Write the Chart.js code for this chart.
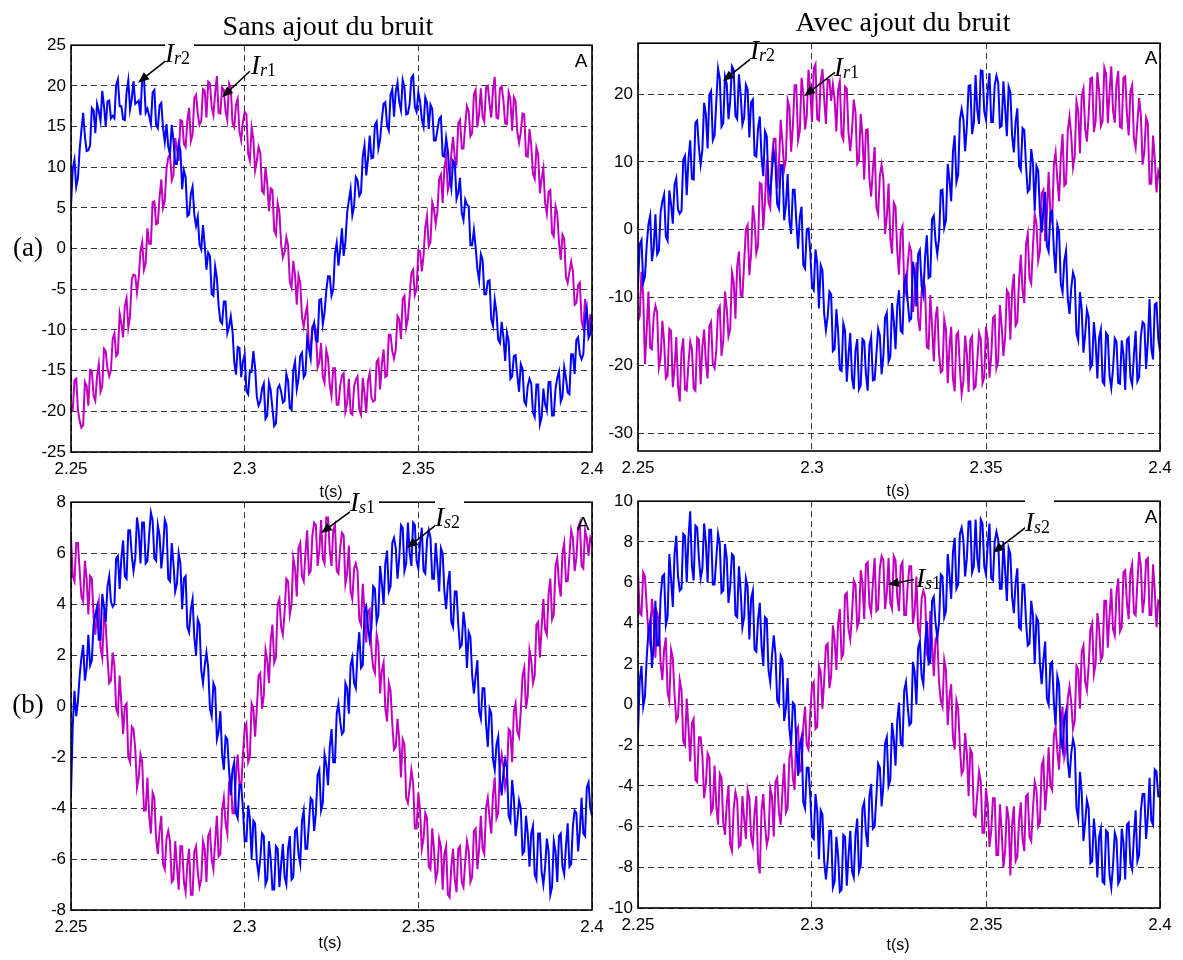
<!DOCTYPE html>
<html>
<head>
<meta charset="utf-8">
<script src="https://cdn.jsdelivr.net/npm/chart.js@4.4.0/dist/chart.umd.min.js"></script>
<style>
  html, body { margin: 0; padding: 0; background: #fff; }
  body { width: 1183px; height: 960px; position: relative; overflow: hidden; }
  canvas { position: absolute; }
  .txt { position: absolute; white-space: nowrap; color: #000; z-index: 2; }
  .title { font-family: 'Liberation Serif', 'Times New Roman', serif; font-size: 28px; line-height: 28px; transform: translateX(-50%); }
  .panel { font-family: 'Liberation Serif', 'Times New Roman', serif; font-size: 27px; line-height: 27px; transform: translate(-50%, -50%); }
  .sans { font-family: 'Liberation Sans', Arial, sans-serif; line-height: 1; transform: translate(-50%, -50%); }
  .lbl { position: absolute; font-family: 'Liberation Serif', 'Times New Roman', serif; line-height: 27px; white-space: nowrap; color: #000; z-index: 2; }
  .lbl .I { font-size: 27px; font-style: italic; }
  .lbl .s { font-size: 18px; position: relative; top: 2px; }
  .bg { background: #fff; }
</style>
</head>
<body>
<canvas id="ra" width="615" height="450" style="left:0px;top:30px"></canvas>
<canvas id="rb" width="608" height="451" style="left:575px;top:28px"></canvas>
<canvas id="sa" width="615" height="451" style="left:0px;top:487px"></canvas>
<canvas id="sb" width="608" height="450" style="left:575px;top:486px"></canvas>

<div class="txt title" style="left:328px;top:12px">Sans ajout du bruit</div>
<div class="txt title bg" style="left:903px;top:8px;padding:0 4px 6px 4px">Avec ajout du bruit</div>

<div class="txt panel" style="left:28px;top:247px">(a)</div>
<div class="txt panel" style="left:28px;top:704px">(b)</div>

<div class="txt sans" style="left:331px;top:492px;font-size:16px">t(s)</div>
<div class="txt sans" style="left:898px;top:491px;font-size:16px">t(s)</div>
<div class="txt sans" style="left:330px;top:943px;font-size:16px">t(s)</div>
<div class="txt sans" style="left:898px;top:945px;font-size:16px">t(s)</div>

<div class="txt sans" style="left:581px;top:60px;font-size:19px">A</div>
<div class="txt sans" style="left:1151px;top:57px;font-size:19px">A</div>
<div class="txt sans" style="left:583px;top:523px;font-size:19px">A</div>
<div class="txt sans" style="left:1151px;top:516px;font-size:19px">A</div>

<div class="lbl bg" style="left:165px;top:40px;padding-right:4px"><span class="I">I</span><span class="s"><i>r</i>2</span></div>
<div class="lbl" style="left:251px;top:52px"><span class="I">I</span><span class="s"><i>r</i>1</span></div>
<div class="lbl" style="left:750px;top:37px"><span class="I">I</span><span class="s"><i>r</i>2</span></div>
<div class="lbl" style="left:834px;top:54px"><span class="I">I</span><span class="s"><i>r</i>1</span></div>
<div class="lbl bg" style="left:350px;top:489px;padding-right:4px"><span class="I">I</span><span class="s"><i>s</i>1</span></div>
<div class="lbl bg" style="left:435px;top:497px;padding-top:7px;padding-right:4px"><span class="I">I</span><span class="s"><i>s</i>2</span></div>
<div class="lbl" style="left:916px;top:565px"><span class="I">I</span><span class="s"><i>s</i>1</span></div>
<div class="lbl bg" style="left:1025px;top:497px;padding-top:12px;padding-right:4px"><span class="I">I</span><span class="s"><i>s</i>2</span></div>

<script>
// time axis: one sample every 0.5 ms from 2.25 s to 2.40 s
const T_START = 2.25;
const T_STEP = 0.0005;
const X_TICKS = [2.25, 2.3, 2.35, 2.4];
const X_TICK_LABELS = ['2.25', '2.3', '2.35', '2.4'];

const Y_TICKS_RA = [-25, -20, -15, -10, -5, 0, 5, 10, 15, 20, 25];
const Y_TICKS_RB = [-30, -20, -10, 0, 10, 20];
const Y_TICKS_SA = [-8, -6, -4, -2, 0, 2, 4, 6, 8];
const Y_TICKS_SB = [-10, -8, -6, -4, -2, 0, 2, 4, 6, 8, 10];

// (a) rotor currents, sans ajout du bruit
const irSansIr2 = [
  5.2, 9.8, 10.9, 7.6, 8.7, 12.2, 14.6, 16.7, 13.8, 12.0,
  12.1, 12.7, 17.3, 17.0, 14.2, 17.8, 16.9, 15.7, 19.4, 17.5,
  15.0, 18.1, 18.2, 16.0, 16.3, 16.0, 20.1, 20.8, 17.5, 17.5,
  15.9, 15.8, 19.2, 20.7, 17.1, 18.4, 20.6, 17.8, 18.0, 18.2,
  16.4, 21.0, 21.1, 16.7, 17.2, 16.3, 15.3, 19.2, 19.5, 15.2,
  14.8, 17.6, 17.9, 14.8, 13.1, 15.3, 12.5, 11.6, 15.2, 13.3,
  10.4, 10.4, 12.9, 12.1, 7.3, 9.6, 8.8, 4.0, 4.2, 6.7,
  7.6, 4.2, 2.8, 3.9, 0.5, -0.1, 2.9, 0.4, -2.6, -0.5,
  -0.9, -5.6, -5.8, -2.2, -3.6, -7.0, -8.9, -9.2, -6.5, -6.5,
  -10.4, -9.6, -8.3, -10.1, -13.9, -15.5, -12.1, -12.2, -15.8, -13.9,
  -13.0, -17.5, -17.9, -15.0, -15.1, -12.6, -14.6, -18.2, -19.3, -18.8,
  -17.2, -16.6, -20.9, -20.5, -16.5, -17.4, -19.7, -21.8, -21.5, -17.2,
  -16.8, -17.6, -18.9, -18.7, -15.4, -16.3, -19.6, -19.8, -14.9, -13.9,
  -17.3, -16.0, -13.2, -12.8, -15.8, -15.4, -11.0, -12.3, -13.5, -9.8,
  -9.1, -11.3, -11.4, -6.3, -6.2, -9.3, -7.9, -5.2, -3.4, -3.4,
  -5.8, -5.0, -0.6, 0.7, -2.1, -0.1, 2.5, -0.9, 0.8, 4.4,
  5.9, 7.3, 4.1, 5.2, 8.8, 8.4, 6.5, 6.9, 11.3, 12.7,
  9.0, 11.0, 13.9, 11.1, 11.2, 15.2, 15.6, 12.3, 13.4, 15.9,
  17.8, 18.0, 15.1, 14.5, 18.9, 19.6, 16.2, 19.3, 20.4, 18.0,
  17.0, 20.7, 19.8, 16.5, 16.6, 17.8, 21.0, 21.3, 17.4, 16.8,
  19.2, 18.1, 15.9, 15.0, 18.6, 17.9, 14.7, 17.7, 17.2, 13.3,
  13.3, 14.6, 15.9, 16.2, 11.4, 11.3, 13.6, 12.0, 8.9, 7.4,
  10.8, 10.5, 6.1, 6.9, 8.7, 4.4, 3.5, 6.0, 5.4, 5.2,
  0.4, 0.4, 2.3, 0.2, -2.5, -3.9, -0.7, -1.4, -5.6, -5.6,
  -4.0, -3.9, -8.7, -9.5, -6.3, -7.8, -11.2, -11.6, -9.0, -10.9,
  -13.8, -10.3, -11.3, -16.0, -15.7, -13.2, -13.1, -15.6, -17.6, -14.2,
  -14.8, -18.8, -19.2, -16.9, -16.0, -16.6, -20.1, -20.7, -16.7, -16.7,
  -21.6, -20.7, -17.2, -19.1, -19.9, -16.4, -16.4, -20.5, -20.5, -17.2,
  -15.9, -15.1, -18.8, -18.2, -14.6, -15.9, -17.7, -17.9, -13.0, -13.0,
  -15.4, -11.2, -10.9, -13.0, -13.6, -13.0, -8.8, -7.4, -11.0, -10.5,
  -8.0
];
const irSansIr1 = [
  -20.1, -19.9, -16.2, -16.0, -19.8, -21.2, -22.0, -21.7, -16.4, -16.9,
  -19.3, -14.9, -15.0, -18.1, -18.7, -15.7, -14.2, -17.6, -16.9, -12.3,
  -12.6, -14.7, -15.7, -14.9, -11.1, -10.4, -13.2, -12.9, -8.0, -9.2,
  -10.9, -7.0, -6.1, -9.7, -8.3, -3.8, -3.2, -3.3, -5.4, -3.6,
  -0.3, 0.8, -2.6, -1.8, 2.5, 0.6, 0.6, 5.7, 5.8, 3.0,
  3.1, 6.3, 8.5, 5.0, 5.9, 9.8, 11.2, 11.6, 8.4, 9.0,
  13.6, 12.2, 10.8, 15.8, 15.7, 12.9, 12.5, 15.7, 17.3, 13.2,
  14.0, 18.5, 18.9, 16.6, 15.2, 15.7, 19.6, 19.4, 16.1, 20.5,
  20.3, 17.4, 16.4, 19.1, 21.2, 16.7, 16.6, 19.8, 19.5, 16.9,
  15.8, 20.3, 19.8, 15.4, 14.9, 17.7, 18.4, 14.4, 13.3, 15.6,
  16.8, 16.5, 11.7, 10.8, 14.9, 13.5, 9.6, 10.8, 12.5, 11.8,
  7.1, 6.8, 9.9, 8.0, 4.6, 7.4, 7.2, 2.2, 1.7, 5.6,
  4.5, 0.5, -1.1, -0.4, 1.4, 0.4, -4.1, -4.8, -1.5, -3.2,
  -6.9, -3.3, -4.2, -8.4, -9.6, -8.1, -7.0, -12.2, -12.3, -9.6,
  -9.3, -10.0, -14.6, -13.9, -11.6, -15.8, -16.5, -12.5, -13.4, -16.8,
  -18.1, -14.7, -14.7, -19.2, -19.2, -16.9, -15.6, -15.3, -20.0, -19.0,
  -16.0, -20.2, -20.4, -17.0, -16.1, -15.7, -19.8, -20.4, -15.9, -17.8,
  -20.2, -16.3, -15.3, -18.3, -18.8, -18.6, -13.9, -13.6, -17.3, -14.1,
  -12.4, -15.8, -15.6, -10.6, -10.6, -12.6, -13.5, -12.4, -8.3, -8.7,
  -11.1, -6.2, -5.8, -9.7, -8.6, -5.8, -3.0, -2.6, -5.7, -5.0,
  -0.2, -0.3, -2.8, -0.9, 2.6, 4.0, 0.3, 0.8, 5.7, 4.9,
  3.0, 4.6, 8.6, 9.1, 5.6, 10.0, 11.3, 7.2, 8.1, 11.7,
  13.7, 11.1, 10.5, 15.4, 15.8, 12.3, 12.3, 15.2, 17.5, 16.9,
  13.8, 14.2, 19.0, 19.5, 14.9, 16.6, 19.7, 16.2, 15.6, 19.8,
  20.0, 17.8, 16.1, 19.6, 21.1, 16.1, 16.0, 19.7, 19.9, 18.2,
  15.4, 15.3, 19.2, 18.4, 14.5, 18.6, 18.1, 14.3, 13.0, 14.3,
  16.6, 16.5, 11.4, 11.3, 14.7, 12.7, 9.2, 8.6, 12.4, 11.6,
  6.8, 8.6, 9.9, 5.6, 4.3, 7.0, 7.2, 1.9, 1.5, 5.2,
  4.3, 0.7, -1.4, 1.7, 1.2, -3.5, -4.2, -2.9, -1.6, -2.8,
  -6.9, -6.7, -4.5, -4.2, -8.9, -9.8, -6.2, -7.9, -10.6, -8.2,
  -8.3
];

// (a) rotor currents, avec ajout du bruit
const irAvecIr2 = [
  -8.2, -2.1, -1.5, -7.8, -6.9, -2.3, 0.8, 2.1, -4.6, -2.8,
  2.3, -3.6, -3.1, 2.6, 4.2, 5.2, -1.0, -1.6, 5.8, 3.8,
  0.9, 6.7, 7.6, 3.0, 2.4, 2.8, 10.3, 10.9, 5.1, 10.4,
  13.2, 7.5, 7.4, 15.8, 16.1, 12.1, 9.6, 11.8, 18.7, 17.0,
  12.0, 19.8, 20.4, 13.2, 13.9, 18.9, 23.8, 22.3, 15.2, 15.7,
  22.6, 21.5, 16.3, 19.0, 24.1, 23.6, 16.8, 16.3, 22.9, 20.0,
  15.5, 16.5, 21.4, 20.7, 13.6, 18.8, 19.2, 11.0, 10.8, 15.0,
  16.7, 10.7, 7.9, 14.5, 13.8, 6.7, 5.2, 8.8, 11.6, 9.7,
  3.8, 3.1, 9.5, 9.5, 1.4, 3.6, 8.2, 1.4, -0.6, 5.9,
  5.9, 1.2, -2.8, 1.9, 3.4, -5.2, -5.7, 0.1, 0.2, -3.3,
  -8.4, -8.9, -2.9, -4.9, -11.6, -5.2, -6.0, -12.4, -14.8, -12.8,
  -9.1, -9.5, -17.9, -17.6, -11.7, -15.0, -20.6, -20.8, -13.8, -14.9,
  -22.4, -18.4, -15.2, -21.8, -23.5, -17.8, -16.1, -23.5, -22.9, -16.1,
  -16.4, -21.3, -23.7, -17.0, -15.8, -22.2, -22.1, -18.4, -14.6, -15.6,
  -21.3, -18.7, -12.9, -12.2, -19.4, -18.7, -10.8, -13.4, -17.6, -11.3,
  -8.9, -14.9, -15.2, -7.8, -6.8, -10.5, -13.4, -13.1, -4.7, -6.4,
  -11.3, -3.6, -3.0, -8.3, -9.6, -4.0, -0.8, -7.1, -6.9, 1.6,
  2.1, -1.6, -3.6, -1.3, 5.8, 5.9, 0.3, 1.4, 9.7, 7.4,
  4.2, 11.5, 13.9, 7.0, 8.1, 16.2, 17.8, 16.3, 11.6, 15.2,
  21.2, 21.3, 14.1, 15.7, 22.8, 17.6, 15.6, 23.5, 23.4, 17.4,
  16.2, 20.5, 23.1, 15.9, 15.9, 21.3, 22.7, 21.7, 15.1, 15.3,
  21.9, 17.9, 13.8, 21.1, 20.3, 13.9, 11.4, 15.9, 17.9, 9.4,
  8.8, 15.0, 14.7, 9.4, 5.6, 6.0, 11.9, 9.8, 2.8, 9.4,
  8.7, 2.6, -0.4, 3.0, 5.6, -2.4, -3.2, 2.6, 2.8, -3.0,
  -6.4, 0.7, -0.3, -8.0, -9.2, -4.6, -3.1, -10.2, -12.4, -8.6,
  -6.3, -7.2, -15.3, -16.3, -9.2, -11.7, -18.1, -15.4, -11.8, -12.9,
  -20.4, -19.8, -13.6, -16.6, -21.9, -15.9, -14.7, -22.4, -22.8, -15.2,
  -15.6, -21.5, -23.3, -20.5, -16.0, -16.5, -22.6, -22.7, -16.3, -18.4,
  -23.6, -16.2, -15.9, -21.8, -22.8, -18.5, -14.9, -22.3, -21.7, -15.7,
  -13.6, -13.9, -20.5, -16.6, -10.2, -17.5, -19.1, -11.0, -10.8, -16.0,
  -18.0
];
const irAvecIr1 = [
  -13.5, -12.7, -6.2, -9.8, -19.8, -14.9, -9.1, -17.4, -17.6, -12.8,
  -11.2, -12.2, -20.3, -18.9, -13.4, -16.5, -21.9, -21.5, -14.6, -14.9,
  -23.2, -20.3, -15.8, -23.0, -25.3, -17.9, -16.0, -23.5, -23.7, -19.7,
  -16.5, -17.6, -23.4, -23.7, -15.9, -16.2, -22.8, -17.2, -14.7, -19.5,
  -21.9, -14.2, -13.6, -19.8, -20.4, -17.8, -11.9, -11.3, -18.6, -16.3,
  -9.1, -11.6, -15.7, -14.6, -6.3, -7.7, -13.1, -5.4, -3.2, -9.7,
  -9.8, -4.9, 0.1, 0.7, -6.7, -3.6, 3.6, 1.3, -3.4, -2.3,
  6.9, 6.7, 0.1, 4.4, 10.3, 4.0, 3.2, 10.7, 13.4, 13.4,
  6.1, 9.6, 16.2, 13.0, 8.9, 10.4, 19.1, 18.1, 11.5, 15.2,
  21.3, 21.3, 13.2, 14.6, 22.4, 20.2, 14.8, 16.8, 23.6, 20.6,
  15.9, 23.8, 24.4, 16.3, 16.1, 21.9, 23.7, 19.3, 15.6, 22.1,
  22.1, 19.0, 21.4, 19.2, 14.5, 20.6, 21.9, 14.0, 13.3, 21.1,
  20.8, 14.2, 11.6, 14.6, 19.2, 17.3, 9.7, 10.2, 17.1, 13.9,
  7.4, 14.7, 14.8, 7.5, 4.9, 9.0, 12.2, 3.3, 2.3, 8.0,
  9.6, 7.7, -0.6, 1.9, 6.8, -1.2, -3.5, 4.0, 3.4, -3.2,
  -6.6, -0.3, 0.5, -8.1, -9.4, -5.1, -2.3, -3.2, -12.1, -10.1,
  -4.8, -13.1, -14.9, -9.1, -7.2, -8.7, -17.3, -17.5, -9.6, -14.1,
  -19.4, -13.0, -11.3, -18.2, -21.0, -20.7, -13.2, -14.7, -22.6, -17.3,
  -14.3, -21.9, -23.8, -15.5, -15.1, -20.5, -24.2, -22.3, -15.6, -18.2,
  -23.9, -16.2, -15.7, -23.4, -23.1, -19.2, -15.2, -16.1, -22.6, -21.7,
  -14.3, -16.1, -21.8, -18.6, -13.0, -12.7, -20.4, -19.4, -11.1, -14.1,
  -18.6, -15.8, -8.9, -9.4, -16.2, -9.0, -6.5, -14.1, -13.6, -7.5,
  -3.7, -8.9, -10.8, -2.1, -0.6, -7.1, -7.9, -2.4, 2.3, 0.9,
  -4.6, -3.2, 5.4, 5.9, -1.7, 2.2, 8.5, 2.5, 1.3, 9.6,
  11.4, 7.4, 4.2, 10.8, 14.1, 6.5, 6.8, 14.6, 16.7, 13.8,
  9.2, 10.9, 18.9, 17.5, 11.3, 19.7, 20.8, 14.9, 13.0, 16.9,
  22.3, 22.4, 14.4, 16.0, 23.2, 20.5, 15.3, 16.0, 23.9, 23.0,
  15.7, 20.3, 24.1, 17.6, 15.8, 21.6, 23.4, 15.2, 15.0, 22.4,
  22.6, 17.1, 13.9, 20.4, 21.3, 13.5, 12.1, 15.8, 19.4, 16.9,
  9.6, 11.5, 16.5, 15.7, 6.8, 6.8, 13.9, 10.5, 5.5, 8.6,
  7.6
];

// (b) stator currents, sans ajout du bruit
const isSansIs2 = [
  -3.5, -0.8, 0.6, -0.4, 0.2, 1.2, 1.9, 2.4, 1.0, 1.5,
  2.8, 1.6, 1.8, 3.2, 3.6, 3.9, 2.6, 2.6, 4.4, 3.9,
  3.3, 4.7, 5.1, 4.1, 3.9, 4.0, 5.8, 5.9, 4.6, 5.8,
  6.5, 5.1, 5.0, 6.9, 6.9, 5.9, 5.3, 5.8, 7.4, 6.9,
  5.6, 7.2, 7.2, 5.6, 5.7, 6.7, 7.6, 7.3, 5.8, 5.7,
  7.1, 6.7, 5.4, 6.1, 7.3, 7.1, 5.0, 4.9, 6.4, 5.6,
  4.5, 4.8, 6.0, 5.6, 3.8, 5.0, 5.1, 3.1, 2.9, 3.8,
  4.2, 2.7, 2.0, 3.4, 3.2, 1.4, 0.9, 1.6, 2.1, 1.5,
  -0.1, -0.4, 0.9, 0.7, -1.3, -1.0, -0.2, -1.9, -2.5, -1.2,
  -1.3, -2.5, -3.5, -2.5, -2.2, -4.2, -4.4, -3.1, -3.1, -4.0,
  -5.3, -5.3, -3.9, -4.4, -6.0, -4.5, -4.6, -6.1, -6.6, -6.0,
  -5.0, -5.1, -7.0, -6.8, -5.3, -6.0, -7.2, -7.2, -5.5, -5.6,
  -7.1, -6.2, -5.4, -6.7, -7.0, -5.6, -5.1, -6.8, -6.7, -4.9,
  -4.8, -5.8, -6.2, -4.5, -4.1, -5.6, -5.6, -4.6, -3.6, -3.7,
  -4.9, -4.2, -2.7, -2.5, -4.1, -3.8, -1.9, -2.3, -3.1, -1.6,
  -0.9, -2.2, -2.2, -0.3, 0.1, -0.6, -1.1, -1.0, 0.9, 0.7,
  -0.3, 1.6, 1.9, 0.9, 0.7, 2.1, 2.9, 1.5, 1.6, 3.7,
  3.9, 3.1, 2.6, 3.1, 4.7, 4.6, 3.3, 3.6, 5.5, 4.8,
  4.0, 5.6, 6.1, 4.5, 4.7, 6.4, 6.6, 6.2, 5.0, 5.8,
  7.1, 7.0, 5.3, 5.6, 7.2, 6.0, 5.5, 7.2, 7.1, 5.7,
  5.4, 6.4, 7.0, 5.3, 5.2, 6.5, 6.9, 6.6, 5.0, 5.0,
  6.4, 5.5, 4.5, 6.2, 6.0, 4.5, 3.8, 4.8, 5.3, 3.3,
  3.1, 4.5, 4.5, 3.2, 2.3, 2.4, 3.7, 3.1, 1.5, 2.9,
  2.7, 1.2, 0.5, 1.2, 1.8, -0.2, -0.5, 0.7, 0.7, -0.7,
  -1.6, -0.1, -0.3, -2.1, -2.5, -1.5, -1.2, -2.9, -3.5, -2.6,
  -2.1, -2.4, -4.3, -4.5, -2.9, -3.6, -5.1, -4.5, -3.7, -4.0,
  -5.8, -5.7, -4.3, -5.0, -6.3, -5.0, -4.7, -6.6, -6.8, -5.0,
  -5.0, -6.5, -7.0, -6.3, -5.2, -5.7, -7.4, -7.1, -5.3, -5.7,
  -6.9, -5.1, -5.0, -6.3, -6.6, -5.5, -4.6, -6.3, -6.2, -4.7,
  -4.1, -4.2, -5.7, -4.9, -3.6, -5.0, -5.1, -3.2, -3.0, -4.0,
  -4.3
];
const isSansIs1 = [
  6.6, 5.1, 4.9, 6.4, 6.4, 5.3, 4.3, 4.1, 5.7, 5.0,
  3.6, 5.1, 5.0, 3.5, 2.8, 3.7, 4.1, 2.3, 1.9, 3.5,
  3.2, 1.9, 0.9, 1.0, 2.1, 1.6, -0.1, -0.3, 1.2, 0.1,
  -1.1, 0.0, 0.1, -2.0, -2.2, -0.8, -0.9, -1.7, -3.2, -2.8,
  -1.9, -2.2, -4.1, -4.1, -2.8, -4.3, -5.0, -3.4, -3.6, -5.2,
  -5.8, -4.9, -4.3, -6.2, -6.4, -5.2, -4.9, -5.3, -6.9, -6.8,
  -5.3, -6.3, -7.2, -5.5, -5.5, -6.9, -7.3, -6.2, -5.6, -7.4,
  -7.4, -5.7, -5.5, -6.5, -7.1, -6.8, -5.3, -5.6, -6.9, -5.1,
  -4.9, -6.0, -6.4, -5.3, -4.3, -5.9, -5.8, -4.1, -3.6, -4.6,
  -5.0, -3.0, -2.8, -4.2, -4.2, -2.7, -1.9, -3.1, -3.2, -1.9,
  -0.9, -0.7, -2.2, -2.0, 0.1, -0.1, -1.2, -0.1, 1.2, 1.3,
  -0.1, 0.4, 2.2, 1.8, 0.9, 2.6, 3.2, 1.7, 1.9, 4.0,
  4.2, 3.1, 2.8, 3.7, 5.0, 4.9, 3.6, 4.0, 5.8, 5.4,
  4.3, 6.2, 6.4, 5.1, 4.9, 6.0, 6.9, 5.2, 5.3, 6.7,
  7.2, 7.1, 5.5, 6.1, 7.3, 5.8, 5.6, 7.4, 7.4, 6.1,
  5.5, 6.9, 7.1, 5.3, 5.2, 6.2, 6.8, 6.7, 4.8, 5.2,
  6.3, 4.5, 4.2, 5.4, 5.6, 5.3, 3.4, 3.2, 4.8, 3.7,
  2.5, 3.7, 3.8, 2.2, 1.5, 1.3, 2.8, 2.4, 0.5, 1.4,
  1.7, -0.1, -0.6, 0.9, 0.6, -0.7, -1.7, -1.6, -0.5, -1.3,
  -2.8, -1.3, -1.5, -3.6, -3.8, -3.2, -2.5, -3.0, -4.8, -4.8,
  -3.4, -4.1, -5.6, -5.2, -4.2, -4.4, -6.3, -6.4, -4.8, -5.6,
  -6.8, -6.5, -5.2, -5.5, -7.2, -5.8, -5.5, -7.4, -7.5, -6.3,
  -5.6, -6.8, -7.3, -5.6, -5.5, -6.9, -7.1, -6.1, -5.3, -5.7,
  -6.9, -6.7, -4.9, -4.8, -6.4, -5.6, -4.3, -5.6, -5.8, -4.0,
  -3.6, -4.4, -5.0, -3.5, -2.8, -4.4, -4.2, -2.4, -1.9, -2.4,
  -3.2, -2.8, -0.9, -1.0, -2.2, -0.2, 0.1, -1.0, -1.2, -0.2,
  1.2, 1.5, -0.1, 0.4, 2.2, 1.8, 0.9, 1.2, 3.2, 3.3,
  1.9, 3.1, 4.2, 3.0, 2.8, 4.4, 5.0, 3.4, 3.6, 5.5,
  5.8, 4.8, 4.3, 6.0, 6.4, 4.9, 4.9, 5.9, 6.9, 6.6,
  5.3, 5.8, 7.0, 7.2, 5.5, 5.4, 6.9, 6.6, 5.9, 6.6,
  6.4
];

// (b) stator currents, avec ajout du bruit
const isAvecIs2 = [
  -1.4, 1.2, 1.9, -0.1, 0.4, 2.3, 3.6, 4.1, 1.8, 2.9,
  5.1, 2.9, 2.9, 5.3, 6.3, 6.4, 3.9, 4.3, 7.4, 6.2,
  4.8, 7.4, 8.3, 6.3, 5.6, 5.7, 8.4, 8.3, 6.0, 8.2,
  9.5, 6.8, 6.1, 8.8, 8.7, 7.2, 6.2, 6.7, 8.9, 8.0,
  6.0, 8.6, 8.6, 5.9, 5.9, 7.2, 8.4, 7.9, 5.5, 5.6,
  7.9, 7.2, 5.0, 5.8, 7.4, 7.3, 4.4, 4.3, 6.8, 5.6,
  3.8, 4.3, 6.2, 5.8, 3.2, 5.2, 5.6, 2.7, 2.6, 4.2,
  5.0, 2.9, 1.9, 4.3, 4.2, 1.7, 1.1, 2.4, 3.4, 2.5,
  0.2, 0.0, 2.4, 2.2, -0.8, -0.2, 1.3, -1.2, -2.0, 0.1,
  0.0, -1.9, -3.5, -2.0, -1.6, -4.8, -5.1, -3.1, -3.1, -4.5,
  -6.5, -6.6, -4.4, -5.2, -7.6, -5.2, -5.4, -7.7, -8.6, -7.7,
  -6.2, -6.2, -9.0, -8.7, -6.5, -7.4, -9.2, -9.1, -6.4, -6.5,
  -8.9, -7.4, -6.2, -8.2, -8.5, -6.4, -5.6, -8.2, -7.9, -5.1,
  -4.8, -6.3, -7.0, -4.5, -3.9, -6.1, -6.0, -4.5, -2.9, -3.1,
  -5.0, -4.0, -1.9, -1.6, -4.0, -3.7, -0.9, -1.7, -3.0, -0.8,
  0.1, -1.9, -2.0, 0.7, 1.1, -0.1, -1.0, -0.9, 2.1, 1.6,
  0.0, 2.8, 3.1, 1.4, 1.0, 3.0, 4.1, 2.0, 2.1, 5.1,
  5.3, 4.0, 3.3, 4.0, 6.4, 6.3, 4.3, 4.6, 7.4, 6.4,
  5.2, 7.5, 8.2, 5.7, 5.9, 8.4, 8.7, 8.1, 6.3, 7.2,
  9.0, 9.0, 6.5, 6.8, 9.1, 7.2, 6.5, 9.1, 8.9, 6.8,
  6.4, 7.9, 8.9, 6.2, 6.1, 8.0, 8.5, 8.1, 5.7, 5.7,
  8.0, 6.6, 5.1, 7.7, 7.4, 5.3, 4.5, 6.0, 6.7, 3.8,
  3.7, 5.9, 5.9, 4.1, 2.9, 3.0, 5.1, 4.4, 2.0, 4.3,
  4.1, 2.0, 1.0, 2.2, 3.1, 0.3, 0.0, 2.0, 2.1, 0.1,
  -1.0, 1.4, 1.0, -1.7, -2.2, -0.7, -0.3, -2.8, -3.6, -2.4,
  -1.7, -2.1, -5.1, -5.6, -3.3, -4.3, -6.7, -5.8, -4.7, -5.1,
  -7.8, -7.7, -5.6, -6.6, -8.5, -6.5, -6.1, -8.7, -8.8, -6.2,
  -6.3, -8.4, -9.0, -7.9, -6.3, -6.6, -8.8, -8.6, -6.1, -6.8,
  -8.6, -5.9, -5.8, -7.8, -8.1, -6.5, -5.2, -7.7, -7.4, -5.2,
  -4.4, -4.4, -6.6, -5.5, -3.6, -5.7, -5.9, -3.2, -3.3, -4.5,
  -4.5
];
const isAvecIs1 = [
  6.5, 4.5, 4.4, 6.5, 6.3, 4.8, 3.5, 3.0, 5.2, 4.3,
  2.3, 4.5, 4.2, 2.0, 1.2, 2.7, 3.3, 0.6, 0.2, 2.7,
  2.3, 0.5, -0.8, -0.6, 1.2, 0.7, -1.8, -2.0, 0.3, -1.1,
  -2.8, -0.9, -0.7, -3.7, -3.8, -1.6, -1.6, -2.5, -4.6, -3.9,
  -2.4, -2.6, -5.3, -5.1, -3.0, -5.0, -5.9, -3.4, -3.6, -5.8,
  -6.4, -4.9, -4.0, -6.9, -7.2, -5.1, -4.3, -4.7, -7.0, -6.9,
  -4.5, -5.6, -6.6, -4.2, -4.6, -6.5, -6.9, -5.3, -4.5, -7.8,
  -8.3, -5.2, -4.4, -5.9, -6.9, -6.5, -4.1, -4.5, -6.5, -3.8,
  -3.6, -5.3, -5.9, -4.3, -2.9, -5.3, -5.1, -2.6, -2.1, -3.6,
  -4.2, -1.3, -1.1, -3.3, -3.2, -1.1, -0.1, -2.0, -2.2, -0.4,
  0.9, 1.1, -1.2, -1.1, 1.9, 1.6, -0.2, 1.2, 2.9, 3.0,
  0.8, 1.4, 3.9, 3.2, 1.7, 4.0, 4.7, 2.3, 2.5, 5.4,
  5.5, 3.7, 3.2, 4.4, 6.1, 5.9, 3.8, 4.1, 6.6, 6.0,
  4.2, 6.9, 7.0, 4.9, 4.5, 6.0, 7.2, 4.6, 4.7, 6.7,
  7.3, 7.1, 4.7, 5.5, 7.2, 5.0, 4.7, 7.3, 7.1, 5.3,
  4.6, 6.8, 7.0, 4.4, 4.4, 5.9, 6.8, 6.8, 4.0, 4.6,
  6.3, 3.7, 3.4, 5.2, 5.6, 5.3, 2.5, 2.2, 4.6, 3.1,
  1.4, 3.2, 3.4, 1.1, 0.2, -0.1, 2.2, 1.7, -1.0, 0.4,
  1.0, -1.6, -2.2, 0.2, -0.2, -2.1, -3.4, -3.2, -1.4, -2.4,
  -4.5, -2.2, -2.4, -5.4, -5.5, -4.4, -3.3, -3.8, -6.3, -6.3,
  -4.1, -4.9, -7.0, -6.2, -4.6, -4.6, -7.4, -7.4, -4.9, -6.2,
  -8.0, -7.2, -5.0, -5.6, -8.4, -5.9, -5.0, -7.7, -7.5, -5.7,
  -4.8, -6.6, -7.2, -4.5, -4.4, -6.5, -6.7, -5.1, -3.8, -4.2,
  -6.0, -5.8, -3.0, -2.7, -5.2, -4.1, -2.1, -4.0, -4.2, -1.5,
  -1.1, -2.3, -3.2, -1.1, -0.1, -2.6, -2.2, 0.3, 0.9, 0.1,
  -1.2, -0.8, 1.9, 1.7, -0.2, 2.6, 2.9, 1.1, 0.7, 1.9,
  3.7, 4.0, 1.5, 2.0, 4.5, 3.8, 2.2, 2.4, 5.1, 5.1,
  2.8, 4.4, 5.7, 3.7, 3.4, 5.5, 6.2, 3.6, 3.8, 6.5,
  6.6, 5.0, 4.2, 6.5, 6.9, 4.5, 4.4, 6.0, 7.5, 6.8,
  4.5, 5.2, 7.1, 7.2, 4.4, 4.4, 6.9, 5.6, 3.8, 5.1,
  5.0
];

const BLUE = '#0000FF';
const MAGENTA = '#C000C0';
const TICK_FONT = { family: "'Liberation Sans', Arial, sans-serif", size: 17 };

// box around the plot area + annotation arrows (given in data units)
const frameArrows = {
  id: 'frameArrows',
  afterDatasetsDraw(chart, args, opts) {
    const { ctx, chartArea: a, scales } = chart;
    ctx.save();
    ctx.setLineDash([]);
    ctx.strokeStyle = '#000';
    ctx.fillStyle = '#000';
    ctx.lineWidth = 1.6;
    ctx.strokeRect(a.left, a.top, a.right - a.left, a.bottom - a.top);

    (opts.list || []).forEach(ar => {
      const x0 = scales.x.getPixelForValue(ar.from[0]);
      const y0 = scales.y.getPixelForValue(ar.from[1]);
      const x1 = scales.x.getPixelForValue(ar.to[0]);
      const y1 = scales.y.getPixelForValue(ar.to[1]);
      const ang = Math.atan2(y1 - y0, x1 - x0);
      const c = Math.cos(ang), s = Math.sin(ang);
      const head = 11, half = 4.5;
      ctx.lineWidth = 1.6;
      ctx.beginPath();
      ctx.moveTo(x0, y0);
      ctx.lineTo(x1 - head * 0.8 * c, y1 - head * 0.8 * s);
      ctx.stroke();
      ctx.beginPath();
      ctx.moveTo(x1, y1);
      ctx.lineTo(x1 - head * c + half * s, y1 - head * s - half * c);
      ctx.lineTo(x1 - head * c - half * s, y1 - head * s + half * c);
      ctx.closePath();
      ctx.fill();
    });
    ctx.restore();
  }
};

function toPoints(values) {
  return values.map((v, i) => ({ x: T_START + i * T_STEP, y: v }));
}

function buildPanel(p) {
  return new Chart(document.getElementById(p.id), {
    type: 'line',
    data: {
      datasets: [
        { data: toPoints(p.blue), borderColor: BLUE, borderWidth: 2, pointRadius: 0, tension: 0 },
        { data: toPoints(p.magenta), borderColor: MAGENTA, borderWidth: 2, pointRadius: 0, tension: 0 }
      ]
    },
    options: {
      responsive: false,
      animation: false,
      devicePixelRatio: 1,
      events: [],
      layout: { padding: { top: 12, right: p.padRight, bottom: 0, left: 0 } },
      plugins: {
        legend: { display: false },
        tooltip: { enabled: false },
        frameArrows: { list: p.arrows }
      },
      scales: {
        x: {
          type: 'linear',
          min: 2.25,
          max: 2.4,
          afterBuildTicks: s => { s.ticks = X_TICKS.map(v => ({ value: v })); },
          afterFit: s => { s.height = 28; },
          ticks: {
            color: '#000',
            font: TICK_FONT,
            padding: 7,
            maxRotation: 0,
            autoSkip: false,
            callback: (v, i) => X_TICK_LABELS[i]
          },
          grid: { color: '#333', lineWidth: 1, drawTicks: false },
          border: { display: false, dash: [6, 4] }
        },
        y: {
          min: p.yMin,
          max: p.yMax,
          afterBuildTicks: s => { s.ticks = p.yTicks.map(v => ({ value: v })); },
          afterFit: s => { s.width = p.yAxisWidth; },
          ticks: {
            color: '#000',
            font: TICK_FONT,
            padding: 5,
            callback: v => String(v)
          },
          grid: { color: '#333', lineWidth: 1, drawTicks: false },
          border: { display: false, dash: [6, 4] }
        }
      }
    },
    plugins: [frameArrows]
  });
}

buildPanel({
  id: 'ra', blue: irSansIr2, magenta: irSansIr1,
  yMin: -25, yMax: 25, yTicks: Y_TICKS_RA, yAxisWidth: 71, padRight: 23,
  arrows: [
    { from: [2.2779, 23.3], to: [2.2693, 20.4] },
    { from: [2.3015, 21.8], to: [2.2935, 18.6] }
  ]
});
buildPanel({
  id: 'rb', blue: irAvecIr2, magenta: irAvecIr1,
  yMin: -32.6, yMax: 27.5, yTicks: Y_TICKS_RB, yAxisWidth: 63, padRight: 23,
  arrows: [
    { from: [2.2822, 25.1], to: [2.2744, 21.9] },
    { from: [2.3066, 23.2], to: [2.2977, 19.7] }
  ]
});
buildPanel({
  id: 'sa', blue: isSansIs2, magenta: isSansIs1,
  yMin: -8, yMax: 8, yTicks: Y_TICKS_SA, yAxisWidth: 71, padRight: 23,
  arrows: [
    { from: [2.3306, 7.65], to: [2.3220, 6.79] },
    { from: [2.3554, 7.14], to: [2.3467, 6.2] }
  ]
});
buildPanel({
  id: 'sb', blue: isAvecIs2, magenta: isAvecIs1,
  yMin: -10, yMax: 10, yTicks: Y_TICKS_SB, yAxisWidth: 63, padRight: 23,
  arrows: [
    { from: [2.3293, 6.15], to: [2.3218, 5.9] },
    { from: [2.3615, 8.73], to: [2.3520, 7.46] }
  ]
});
</script>
</body>
</html>
